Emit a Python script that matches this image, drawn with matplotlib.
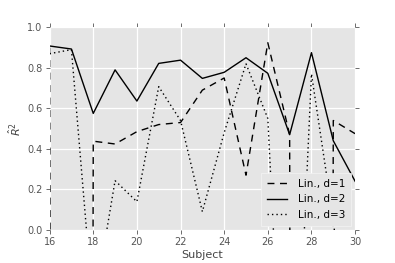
import numpy as np
import matplotlib
matplotlib.use("Agg")
import matplotlib.pyplot as plt

plt.style.use('ggplot')

# subjects on the x axis
subjects = np.arange(16, 31)

# R^2 per subject; very low values fall far outside the plotted range
r2_d1 = [0.90, -50.0, 0.438, 0.424, 0.485, 0.52, 0.53, 0.69, 0.75, 0.27,
         0.924, 0.47, -50.0, 0.54, 0.475]
r2_d2 = [0.908, 0.893, 0.575, 0.79, 0.636, 0.822, 0.838, 0.748, 0.778, 0.85,
         0.773, 0.47, 0.875, 0.44, 0.24]
r2_d3 = [0.87, 0.89, -0.40, 0.243, 0.139, 0.707, 0.54, 0.09, 0.48, 0.82,
         0.55, -1.6, 0.77, 0.05, -1.0]

plt.rcParams['font.family'] = ['DejaVu Sans']

fig = plt.figure(figsize=(3.95, 2.63), dpi=100)
ax = fig.add_axes([0.1256, 0.126, 0.7734, 0.77])
ax.set_facecolor('#E5E5E5')

ax.plot(subjects, r2_d1, color='black', linestyle=(0, (5, 4)), linewidth=1.0, label="Lin., d=1")
ax.plot(subjects, r2_d2, color='black', linestyle='-', linewidth=1.0, label="Lin., d=2")
ax.plot(subjects, r2_d3, color='black', linestyle=(0, (1, 2.2)), linewidth=1.0, label="Lin., d=3")

ax.set_xlim(16, 30)
ax.set_ylim(0, 1.0)
ax.set_xticks(np.arange(16, 31, 2))
ax.set_yticks(np.arange(0, 1.01, 0.2))
ax.set_yticklabels(["0.0", "0.2", "0.4", "0.6", "0.8", "1.0"])

ax.grid(True, color='white', linestyle='-', linewidth=0.9)
ax.set_axisbelow(True)
for s in ax.spines.values():
    s.set_visible(False)

ax.tick_params(axis='both', which='both', direction='out', length=3, width=0.6,
               color='#555555', labelcolor='#555555', labelsize=7,
               top=True, right=True, pad=2)

ax.set_xlabel("Subject", fontsize=8, color='#444444', labelpad=2)
ax.set_ylabel(r"$\hat{R}^2$", fontsize=8, color='#444444', labelpad=3)

leg = ax.legend(loc='lower right', fontsize=7.5, frameon=True, borderaxespad=0.4,
                handlelength=2.0, handletextpad=1.0, labelspacing=0.55,
                borderpad=0.55, fancybox=False)
leg.get_frame().set_facecolor('#E5E5E5')
leg.get_frame().set_edgecolor('#F4F4F4')
leg.get_frame().set_alpha(1.0)
for t in leg.get_texts():
    t.set_color('black')

fig.savefig("out.png", dpi=100)
